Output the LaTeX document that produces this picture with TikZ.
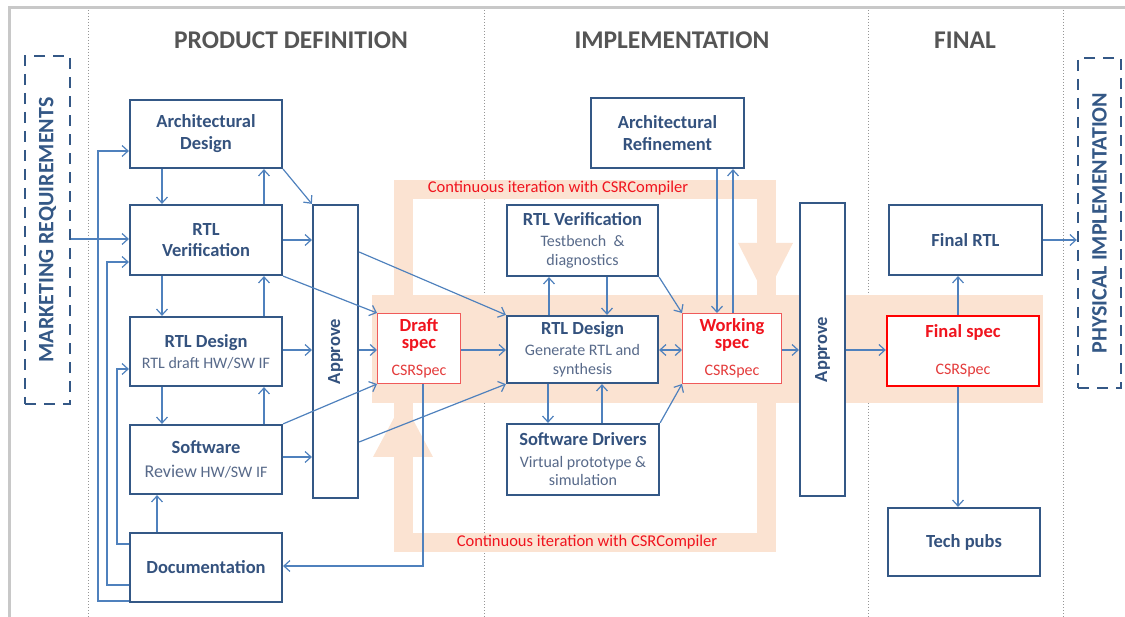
\documentclass[tikz,border=0pt]{standalone}
\usepackage{fontspec}
\usepackage{graphicx}
\setmainfont{Carlito}
\usetikzlibrary{arrows.meta}
\definecolor{boxblue}{RGB}{52,88,134}
\definecolor{txtblue}{RGB}{52,82,126}
\definecolor{subblue}{RGB}{88,106,138}
\definecolor{arrblue}{RGB}{79,129,189}
\definecolor{hdrgray}{RGB}{85,85,85}
\definecolor{specred}{RGB}{240,20,30}
\definecolor{specsub}{RGB}{228,60,60}
\definecolor{specline}{RGB}{240,90,90}
\definecolor{peach}{RGB}{251,227,210}
\definecolor{framegray}{RGB}{200,200,200}
\definecolor{sepgray}{RGB}{150,150,150}
\newcommand{\boxttl}[1]{{\fontsize{18.5}{19}\selectfont\bfseries\color{txtblue}#1}}
\newcommand{\specttl}[1]{{\fontsize{18.5}{19}\selectfont\bfseries\color{specred}#1}}
\tikzset{
  blk/.style={draw=boxblue, line width=2.2pt, fill=white, align=center, text=subblue,
    inner sep=1pt, font=\fontsize{16}{19}\selectfont},
  specbox/.style={draw=specline, line width=1pt, fill=white, align=center, text=specsub,
    inner sep=1pt, font=\fontsize{16}{19}\selectfont},
  arr/.style={draw=arrblue, line width=1.2pt, -{Straight Barb[length=6pt,width=11pt]}},
  darr/.style={draw=arrblue, line width=1.2pt, {Straight Barb[length=6pt,width=11pt]}-{Straight Barb[length=6pt,width=11pt]}},
  dashbox/.style={draw=boxblue, line width=2.4pt, dash pattern=on 11pt off 8pt, text=boxblue,
    font=\fontsize{22}{24}\selectfont\bfseries},
  hdr/.style={text=hdrgray, font=\fontsize{25.5}{27}\selectfont\bfseries},
  iter/.style={text=specred, font=\fontsize{16.5}{18}\selectfont},
}
\begin{document}
\begin{tikzpicture}[x=1pt,y=-1pt]
\useasboundingbox (0,0) rectangle (1125,617);
% frame and separators
\draw[framegray, line width=3pt] (9,625) -- (9,8) -- (1130,8);
\foreach \xx in {88,484,868,1063}
  \draw[sepgray, line width=0.8pt, dash pattern=on 1pt off 2pt] (\xx,10) -- (\xx,617);
% peach band and iteration loop
\fill[peach] (372,295) rectangle (1043,403);
\draw[peach, line width=19pt] (403,190) rectangle (766,542);
\fill[peach] (738,243) -- (793,243) -- (765.5,297) -- cycle;
\fill[peach] (373,457) -- (433,457) -- (403,401) -- cycle;
\node[iter] (IT1) at (558,188) {Continuous iteration with CSRCompiler};
\node[iter] (IT2) at (587,542) {Continuous iteration with CSRCompiler};
% headers
\node[hdr] (H1) at (291,40) {PRODUCT DEFINITION};
\node[hdr] (H2) at (672,40) {IMPLEMENTATION};
\node[hdr] (H3) at (965,40) {FINAL};
% dashed side boxes
\node[dashbox, minimum width=45pt, minimum height=348pt] (MR) at (47.5,230) {\rotatebox{90}{MARKETING REQUIREMENTS}};
\node[dashbox, minimum width=43pt, minimum height=330pt] (PI) at (1099.5,223) {\rotatebox{90}{PHYSICAL IMPLEMENTATION}};
% product definition
\node[blk, minimum width=152pt, minimum height=68pt] (AD) at (206,134) {\boxttl{Architectural}\\[3pt]\boxttl{Design}};
\node[blk, minimum width=152pt, minimum height=70pt] (RV) at (206,240) {\boxttl{RTL}\\[2pt]\boxttl{Verification}};
\node[blk, minimum width=152pt, minimum height=69pt] (RD) at (206,351.5) {\boxttl{RTL Design}\\[2pt]RTL draft HW/SW IF};
\node[blk, minimum width=152pt, minimum height=69pt] (SR) at (206,459.5) {\boxttl{Software}\\[5pt]{\fontsize{18}{19}\selectfont Review} HW/SW IF};
\node[blk, minimum width=152pt, minimum height=69pt] (DOC) at (206,567.5) {\boxttl{Documentation}};
\node[blk, minimum width=45pt, minimum height=293pt] (AP1) at (335.5,351.5) {\rotatebox{90}{\boxttl{Approve}}};
% implementation
\node[specbox, minimum width=83pt, minimum height=70pt] (DS) at (419,348.5) {\specttl{Draft}\\[-2pt]\specttl{spec}\\[8pt]CSRSpec};
\node[blk, minimum width=151pt, minimum height=67pt] (RD2) at (582.5,349.5) {\boxttl{RTL Design}\\[2pt]Generate RTL and\\synthesis};
\node[blk, minimum width=151pt, minimum height=71pt] (RV2) at (582.5,240.5) {\boxttl{RTL Verification}\\[2pt]Testbench~ \&\\diagnostics};
\node[blk, minimum width=152pt, minimum height=71pt] (SD) at (583,459.5) {\boxttl{Software Drivers}\\[3pt]Virtual prototype \&\\[-1pt]simulation};
\node[blk, minimum width=153pt, minimum height=70pt] (AR) at (667.5,133) {\boxttl{Architectural}\\[3pt]\boxttl{Refinement}};
\node[specbox, minimum width=99pt, minimum height=70pt] (WS) at (732,348.5) {\specttl{Working}\\[-2pt]\specttl{spec}\\[8pt]CSRSpec};
\node[blk, minimum width=45pt, minimum height=293pt] (AP2) at (822.5,349.5) {\rotatebox{90}{\boxttl{Approve}}};
% final
\node[blk, minimum width=153pt, minimum height=70pt] (FR) at (965.5,240) {\boxttl{Final RTL}};
\node[specbox, draw=red, line width=2.4pt, minimum width=152pt, minimum height=70pt] (FS) at (963,351) {\specttl{Final spec}\\[18pt]CSRSpec};
\node[blk, minimum width=152pt, minimum height=68pt] (TP) at (964,542) {\boxttl{Tech pubs}};
% connectors: product definition
\draw[arr] (MR.east |- 0,239) -- (RV.west |- 0,239);
\draw[arr] (DOC.west |- 0,601) -| (98,151) -- (AD.west |- 0,151);
\draw[arr] (DOC.west |- 0,585) -| (107,262) -- (RV.west |- 0,262);
\draw[arr] (DOC.west |- 0,544) -| (117,369) -- (RD.west |- 0,369);
\draw[arr] (DOC.north -| 157,0) -- (SR.south -| 157,0);
\draw[arr] (AD.south -| 162,0) -- (RV.north -| 162,0);
\draw[arr] (RV.north -| 264,0) -- (AD.south -| 264,0);
\draw[arr] (RV.south -| 162,0) -- (RD.north -| 162,0);
\draw[arr] (RD.north -| 264,0) -- (RV.south -| 264,0);
\draw[arr] (RD.south -| 162,0) -- (SR.north -| 162,0);
\draw[arr] (SR.north -| 264,0) -- (RD.south -| 264,0);
\draw[arr] (AD.south east) -- (AP1.north west);
\draw[arr] (RV.east |- 0,240) -- (AP1.west |- 0,240);
\draw[arr] (RD.east |- 0,350) -- (AP1.west |- 0,350);
\draw[arr] (SR.east |- 0,457) -- (AP1.west |- 0,457);
\draw[arr] (RV.south east) -- (DS.north west);
\draw[arr] (AP1.east |- 0,350) -- (DS.west |- 0,350);
\draw[arr] (SR.north east) -- (DS.south west);
\draw[arr] (AP1.east |- 0,442) -- (RD2.south west);
\draw[arr] (AP1.east |- 0,252) -- (RD2.north west);
\draw[arr] (DS.east |- 0,350) -- (RD2.west |- 0,350);
\draw[arr] (DS.south -| 423,0) |- (DOC.east |- 0,566);
% connectors: implementation
\draw[arr] (RD2.north -| 549,0) -- (RV2.south -| 549,0);
\draw[arr] (RV2.south -| 607,0) -- (RD2.north -| 607,0);
\draw[arr] (RV2.south east) -- (WS.north west);
\draw[darr] (RD2.east |- 0,350) -- (WS.west |- 0,350);
\draw[arr] (RD2.south -| 548,0) -- (SD.north -| 548,0);
\draw[arr] (SD.north -| 602,0) -- (RD2.south -| 602,0);
\draw[arr] (SD.north east) -- (WS.south west);
\draw[arr] (AR.south -| 717,0) -- (WS.north -| 717,0);
\draw[arr] (WS.north -| 733,0) -- (AR.south -| 733,0);
\draw[arr] (WS.east |- 0,350) -- (AP2.west |- 0,350);
% connectors: final
\draw[arr] (AP2.east |- 0,350) -- (FS.west |- 0,350);
\draw[arr] (FS.north -| 958,0) -- (FR.south -| 958,0);
\draw[arr] (FS.south -| 958,0) -- (TP.north -| 958,0);
\draw[arr] (FR.east |- 0,240) -- (PI.west |- 0,240);
\end{tikzpicture}
\end{document}
